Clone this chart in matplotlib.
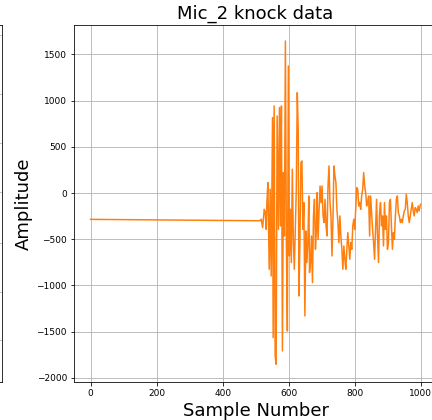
import matplotlib
matplotlib.use("Agg")
import matplotlib.pyplot as plt

# sample numbers and amplitudes (Mic_2 knock)
sample = [0, 250, 505, 514, 517, 521, 526, 529, 532, 534, 537, 541, 544, 547,
          551, 553, 556, 559, 562, 565, 569, 572, 575, 578, 581, 584, 587, 590,
          593, 596, 599, 602, 605, 608, 611, 614, 617, 620, 623, 626, 629, 631,
          634, 637, 640, 643, 646, 649, 652, 655, 658, 661, 663, 666, 669, 672,
          675, 678, 681, 684, 686, 689, 692, 695, 698, 701, 704, 707, 710, 713,
          716, 719, 722, 725, 728, 731, 734, 737, 740, 743, 746, 749, 752, 755,
          758, 761, 764, 767, 770, 773, 776, 779, 782, 785, 788, 791, 794, 797,
          800, 803, 806, 809, 812, 815, 818, 821, 824, 827, 830, 833, 836, 839,
          842, 845, 848, 851, 854, 857, 860, 863, 866, 869, 872, 875, 878, 881,
          884, 887, 890, 893, 896, 899, 902, 905, 908, 911, 914, 917, 920, 923,
          926, 929, 932, 935, 938, 941, 944, 947, 950, 953, 956, 959, 962, 965,
          968, 971, 974, 977, 980, 983, 986, 989, 992, 995, 999]
amplitude = [-285, -293, -300, -298, -284, -374, -176, -205, -393, -104, 112,
             -825, 40, -898, 816, -1565, 942, -1763, -1853, 834, -393, 924,
             -356, 942, -1709, 221, -465, 1645, -537, -1493, 1375, -681, -176,
             -753, 257, -501, -825, -393, 40, 1086, 653, -1114, -537, 329, 347,
             -393, -104, -1330, -411, -753, -537, -32, -861, -753, -465, -970,
             -248, -68, -609, -393, 4, -501, -176, 76, -104, 76, -248, -320,
             -68, -356, -465, 76, 293, -104, -248, -681, -284, 293, 185, 112,
             -176, -320, -537, -248, -465, -609, -825, -573, -717, -825, -609,
             -429, -573, -717, -537, -609, -356, -284, -393, -176, 58, 40,
             -140, -104, -176, -32, 40, 221, 76, 4, -140, -104, -32, -465, -32,
             -212, -393, -537, -717, -393, -68, -465, -753, -212, -104, -356,
             -248, -573, -104, -393, -248, -609, -537, -104, -68, -356, -609,
             -429, -501, -248, -68, -32, -212, -248, -320, -284, -320, -248,
             -194, -176, -14, -104, -248, -320, -248, -176, -104, -194, -248,
             -158, -176, -212, -140, -194, -122]

fig = plt.figure(figsize=(6, 420 / 72), dpi=72)

# edge of the neighbouring panel on the left
ax0 = fig.add_axes([-0.5, 38 / 420, 0.5 + 2 / 432, 357 / 420])
ax0.set_ylim(0, 357)
ax0.set_yticks([42, 90, 139, 190, 239, 288, 347])
ax0.set_xticks([])
ax0.tick_params(left=False, labelleft=False)
ax0.grid(True)

ax = fig.add_axes([74 / 432, 38 / 420, 363 / 432, 357 / 420])
ax.plot(sample, amplitude, color="tab:orange", linewidth=1.5)
ax.set_xlim(-50, 1049)
ax.set_ylim(-2045, 1818)
ax.tick_params(labelsize=9)
ax.set_title("Mic_2 knock data", fontsize=18)
ax.set_xlabel("Sample Number", fontsize=18)
ax.set_ylabel("Amplitude", fontsize=18)
ax.grid(True)

fig.savefig("out.png", dpi=72)
